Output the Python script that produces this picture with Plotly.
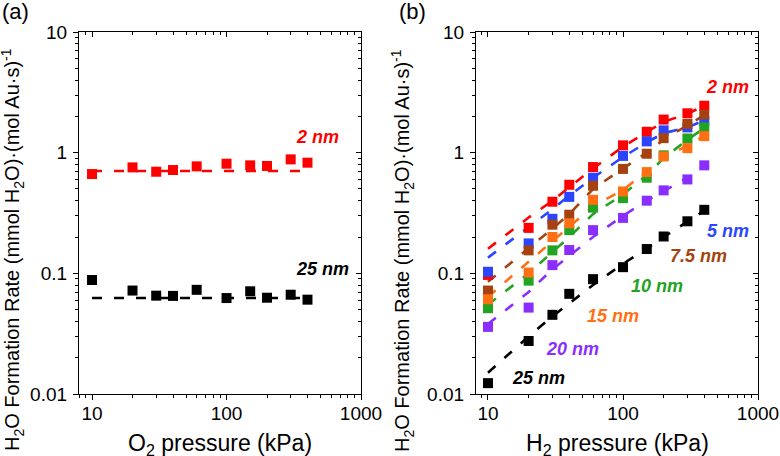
import math
import plotly.graph_objects as go

# ---------------- data ----------------
pressures = [10, 20, 30, 40, 60, 100, 150, 200, 300, 400]

# panel (a): O2 pressure dependence
o2_rate_2nm = [0.665, 0.755, 0.695, 0.718, 0.77, 0.81, 0.785, 0.776, 0.88, 0.826]
o2_rate_25nm = [0.088, 0.072, 0.0653, 0.065, 0.073, 0.0624, 0.071, 0.0628, 0.0665, 0.0605]
o2_fit_x = [10, 400]
o2_fit_2nm = [0.705, 0.705]
o2_fit_25nm = [0.0624, 0.0624]

# panel (b): H2 pressure dependence (measured)
h2_rate_2nm = [0.097, 0.238, 0.392, 0.542, 0.76, 1.15, 1.49, 1.88, 2.12, 2.45]
h2_rate_5nm = [0.103, 0.177, 0.283, 0.43, 0.62, 0.94, 1.24, 1.53, 1.62, 1.82]
h2_rate_7_5nm = [0.072, 0.155, 0.253, 0.306, 0.532, 0.733, 0.98, 1.32, 1.73, 2.07]
h2_rate_10nm = [0.0514, 0.087, 0.155, 0.228, 0.35, 0.42, 0.62, 0.95, 1.31, 1.62]
h2_rate_15nm = [0.061, 0.1015, 0.20, 0.26, 0.407, 0.477, 0.69, 0.93, 1.09, 1.37]
h2_rate_20nm = [0.036, 0.052, 0.117, 0.156, 0.228, 0.288, 0.40, 0.487, 0.60, 0.785]
h2_rate_25nm = [0.0123, 0.0275, 0.0453, 0.0676, 0.0895, 0.1125, 0.159, 0.202, 0.27, 0.336]

# panel (b): model fits (dashed)
h2_fit_2nm = [0.16, 0.29, 0.40, 0.52, 0.74, 1.12, 1.48, 1.80, 2.10, 2.45]
h2_fit_5nm = [0.135, 0.24, 0.34, 0.44, 0.62, 0.92, 1.22, 1.45, 1.62, 1.85]
h2_fit_7_5nm = [0.085, 0.16, 0.235, 0.31, 0.50, 0.74, 1.00, 1.28, 1.70, 2.05]
h2_fit_10nm = [0.055, 0.10, 0.15, 0.20, 0.31, 0.45, 0.65, 0.90, 1.28, 1.60]
h2_fit_15nm = [0.064, 0.125, 0.185, 0.245, 0.36, 0.49, 0.70, 0.92, 1.14, 1.38]
h2_fit_20nm = [0.038, 0.07, 0.108, 0.14, 0.20, 0.30, 0.40, 0.48, 0.62, 0.78]
h2_fit_25nm = [0.015, 0.03, 0.044, 0.056, 0.08, 0.12, 0.16, 0.20, 0.27, 0.33]

sizes = ["2 nm", "5 nm", "7.5 nm", "10 nm", "15 nm", "20 nm", "25 nm"]
colors = ["#FF0000", "#2B45FF", "#A5420F", "#22A322", "#FF7014", "#8A2EFF", "#000000"]

x_tick_vals = [10, 100, 1000]
x_tick_text = ["10", "100", "1000"]
y_tick_vals = [0.01, 0.1, 1, 10]
y_tick_text = ["0.01", "0.1", "1", "10"]

# ---------------- figure ----------------
W, H = 780, 456
FONT = "Liberation Sans, Arial, sans-serif"

def px_x(p):
    return p / W

def px_y(p):
    return 1 - p / H

dom_y = [px_y(394), px_y(32)]
dom_a = [px_x(79), px_x(361)]
dom_b = [px_x(476), px_x(758)]

fig = go.Figure()

DASH = "10px,12px"
LW = 2.6
MS = 10

def add_line(xs, ys, color, xa, ya):
    fig.add_trace(go.Scatter(x=xs, y=ys, mode="lines", xaxis=xa, yaxis=ya,
                             line=dict(color=color, width=LW, dash=DASH),
                             hoverinfo="skip", showlegend=False))

def add_pts(xs, ys, color, xa, ya):
    fig.add_trace(go.Scatter(x=xs, y=ys, mode="markers", xaxis=xa, yaxis=ya,
                             marker=dict(symbol="square", size=MS, color=color,
                                         line=dict(width=0)),
                             showlegend=False))

# panel a
add_line(o2_fit_x, o2_fit_2nm, colors[0], "x", "y")
add_line(o2_fit_x, o2_fit_25nm, colors[6], "x", "y")
add_pts(pressures, o2_rate_2nm, colors[0], "x2", "y2")
add_pts(pressures, o2_rate_25nm, colors[6], "x2", "y2")

# panel b
fits_b = [h2_fit_2nm, h2_fit_5nm, h2_fit_7_5nm, h2_fit_10nm, h2_fit_15nm, h2_fit_20nm, h2_fit_25nm]
rates_b = [h2_rate_2nm, h2_rate_5nm, h2_rate_7_5nm, h2_rate_10nm, h2_rate_15nm, h2_rate_20nm, h2_rate_25nm]
for f, c in zip(fits_b, colors):
    add_line(pressures, f, c, "x3", "y3")
for r, c in zip(rates_b, colors):
    add_pts(pressures, r, c, "x4", "y4")

xr = [math.log10(8), 3]
xr_b = [math.log10(8.15), 3]
yr = [-2, 1]

tickfont = dict(family=FONT, size=19, color="black")

def base_x(dom, anchor, rng):
    return dict(type="log", range=rng, domain=dom, anchor=anchor,
                tickmode="array", tickvals=x_tick_vals, ticktext=x_tick_text,
                ticks="outside", ticklen=5, tickwidth=1.2, tickcolor="black",
                ticklabelstandoff=-3,
                minor=dict(ticks="outside", ticklen=3, tickwidth=1, tickcolor="black",
                           tickmode="linear", dtick="D1", showgrid=False),
                showline=True, linewidth=1.2, linecolor="black",
                showgrid=False, zeroline=False, tickfont=tickfont, automargin=False)

def mirror_x(over, anchor, rng):
    return dict(type="log", range=rng, overlaying=over, side="top", anchor=anchor,
                tickmode="array", tickvals=x_tick_vals, ticks="inside", ticklen=5,
                tickwidth=1.2, tickcolor="black", showticklabels=False,
                minor=dict(ticks="inside", ticklen=3, tickwidth=1, tickcolor="black",
                           tickmode="linear", dtick="D1", showgrid=False),
                showline=True, linewidth=1.2, linecolor="black",
                showgrid=False, zeroline=False, automargin=False)

def base_y(anchor):
    return dict(type="log", range=yr, domain=dom_y, anchor=anchor,
                tickmode="array", tickvals=y_tick_vals, ticktext=y_tick_text,
                ticks="outside", ticklen=5, tickwidth=1.2, tickcolor="black",
                ticklabelstandoff=2,
                minor=dict(ticks="outside", ticklen=3, tickwidth=1, tickcolor="black",
                           tickmode="linear", dtick="D1", showgrid=False),
                showline=True, linewidth=1.2, linecolor="black",
                showgrid=False, zeroline=False, tickfont=tickfont, automargin=False)

def mirror_y(over, anchor):
    return dict(type="log", range=yr, overlaying=over, side="right", anchor=anchor,
                tickmode="array", tickvals=y_tick_vals, ticks="inside", ticklen=5,
                tickwidth=1.2, tickcolor="black", showticklabels=False,
                minor=dict(ticks="inside", ticklen=3, tickwidth=1, tickcolor="black",
                           tickmode="linear", dtick="D1", showgrid=False),
                showline=True, linewidth=1.2, linecolor="black",
                showgrid=False, zeroline=False, automargin=False)

fig.update_layout(
    width=W, height=H,
    margin=dict(l=0, r=0, t=0, b=0),
    paper_bgcolor="white", plot_bgcolor="white",
    font=dict(family=FONT, color="black"),
    xaxis=base_x(dom_a, "y", xr),
    yaxis=base_y("x"),
    xaxis2=mirror_x("x", "y2", xr),
    yaxis2=mirror_y("y", "x2"),
    xaxis3=base_x(dom_b, "y3", xr_b),
    yaxis3=base_y("x3"),
    xaxis4=mirror_x("x3", "y4", xr_b),
    yaxis4=mirror_y("y3", "x4"),
    showlegend=False,
)

ann = []

def add_text(text, x, y, size, color="black", angle=0, xanchor="center"):
    ann.append(dict(text=text, x=px_x(x), y=px_y(y), xref="paper", yref="paper",
                    xanchor=xanchor, yanchor="middle", showarrow=False, textangle=angle,
                    font=dict(family=FONT, size=size, color=color)))

ytitle = "H<sub>2</sub>O Formation Rate (mmol H<sub>2</sub>O)·(mol Au·s)<sup>-1</sup>"
add_text("(a)", 0, 12, 22, xanchor="left")
add_text("(b)", 397, 12, 22, xanchor="left")
add_text(ytitle, 12, 250, 20, angle=-90)
add_text(ytitle, 402, 250, 20, angle=-90)
add_text("O<sub>2</sub> pressure (kPa)", 220, 444, 23)
add_text("H<sub>2</sub> pressure (kPa)", 617, 444, 23)

lab = lambda s: "<b><i>%s</i></b>" % s
add_text(lab(sizes[0]), 317, 137, 18, colors[0])
add_text(lab(sizes[6]), 322, 269, 18, colors[6])

label_pos_b = [(727, 86.5), (728, 231), (698, 256), (657, 286), (613, 316), (572, 349), (538, 378)]
for s, c, (lx, ly) in zip(sizes, colors, label_pos_b):
    add_text(lab(s), lx, ly, 18, c)

fig.update_layout(annotations=ann)

fig.write_html("out.html", config={"displayModeBar": False},
               post_script="document.body.style.margin='0';")
